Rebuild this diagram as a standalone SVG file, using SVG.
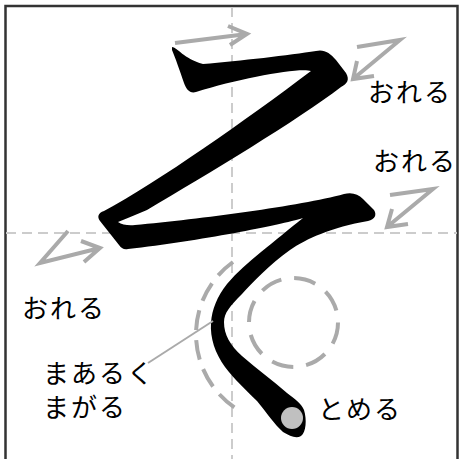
<svg xmlns="http://www.w3.org/2000/svg" width="461" height="459" viewBox="0 0 461 459">
<style>
.guide{stroke:#cccccc;stroke-width:2;stroke-dasharray:10 6;fill:none}
.arr{stroke:#aaaaaa;stroke-width:4;fill:none;stroke-linejoin:miter;stroke-linecap:butt}
.dash{stroke:#aaaaaa;stroke-width:4;fill:none}
.lbl{font-family:"Noto Sans CJK JP","Noto Sans",sans-serif;font-size:26px;letter-spacing:2px;fill:#000}
</style>
<rect x="0" y="0" width="461" height="459" fill="#ffffff"/>
<rect x="5.5" y="6" width="452" height="460" fill="none" stroke="#333333" stroke-width="2.5"/>
<g id="guides">
<line class="guide" x1="232" y1="7" x2="232" y2="459"/>
<line class="guide" x1="6" y1="233" x2="457" y2="233"/>
</g>
<g id="glyph">
<path fill="#000000" d="M172,47 C177,47 184,59 203,64 C240,61 290,55 316,51 C324,49 330,53 336,60 L346,73 C350,80 347,84 341,87 C298,120 208,174 147,210 Q128,218 118,222 Q124,226 135,225 C200,219 300,206 344,194 C352,192 358,194 363,199 L374,210 C377,215 375,219 368,221 C332,227 306,239 290,250 C270,264 252,283 242,294 C230,306 224,313 224,322 C224,335 230,345 242,356 C257,369 272,380 287,393 C295,399 301,403 304,410 C307,420 306,432 301,436 C296,439 290,436 283,432 C274,424 267,413 257,401 C247,391 234,379 225,367 C215,353 210,338 211,323 C212,309 217,297 227,284 C237,272 249,262 261,252 C275,241 290,228 303,218 C280,225 200,241 128,249 C124,250 121,248 119,245 L100,221 C97,217 98,213 104,211 C158,182 246,120 311,71 C300,67 240,78 196,92 C190,94 186,89 184,83 C180,71 175,57 172,50 Z"/>
<circle cx="292" cy="418" r="11" fill="#c0c0c0"/>
</g>
<g id="circles">
<path class="dash" d="M233,262 A89,89 0 0 0 240,411" stroke-dasharray="20 10"/>
<circle class="dash" cx="293.5" cy="322.5" r="44.5" stroke-dasharray="22 13"/>
</g>
<g id="connectors">
<path class="arr" d="M175,43 L247,34 M228,26 L247,34 L230,45"/>
<path class="arr" d="M357,47 L400,40 L353,79 M357,61 L353,79 L374,76"/>
<path class="arr" d="M390,195 L433,189 L387,227 M392,209 L387,227 L408,224"/>
<path class="arr" d="M68,231 L40,263 L100,248 M81,241 L100,248 L84,262"/>
<line x1="213" y1="321" x2="148" y2="363" stroke="#aaaaaa" stroke-width="2"/>
</g>
<g id="labels">
<text class="lbl" x="368" y="101.5">おれる</text>
<text class="lbl" x="373" y="170.5">おれる</text>
<text class="lbl" x="22" y="317.5">おれる</text>
<text class="lbl" x="43" y="382.5">まあるく</text>
<text class="lbl" x="43" y="416.5">まがる</text>
<text class="lbl" x="318" y="418.5">とめる</text>
</g>
</svg>
